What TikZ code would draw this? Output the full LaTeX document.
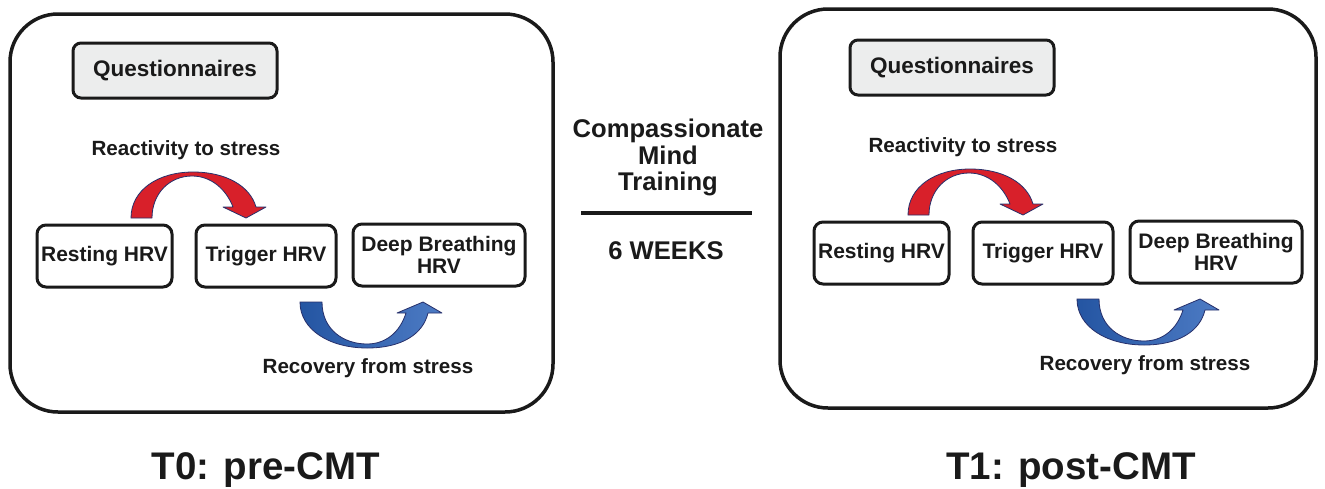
\documentclass[tikz,border=0pt]{standalone}
\usepackage{fontspec}
\setmainfont{Liberation Sans}
\definecolor{ink}{HTML}{1A1A1A}
\definecolor{qfill}{HTML}{ECEDED}
\definecolor{redarrow}{HTML}{D8202A}
\definecolor{navyedge}{HTML}{27306B}
\definecolor{bluedark}{HTML}{2455A2}
\definecolor{bluelight}{HTML}{4D7BC4}
\tikzset{
 bigbox/.style={draw=ink, line width=3.5pt, rounded corners=48pt, inner sep=0pt},
 hrvbox/.style={draw=ink, line width=3pt, rounded corners=9pt, fill=white, inner sep=0pt, text=ink,
   font=\bfseries\fontsize{21}{21.5}\selectfont, align=center},
 qbox/.style={hrvbox, fill=qfill, font=\bfseries\fontsize{22.5}{24}\selectfont, rounded corners=8pt},
 lbl/.style={text=ink, font=\bfseries\fontsize{20.6}{22}\selectfont, inner sep=0pt, anchor=base},
 midlbl/.style={text=ink, font=\bfseries\fontsize{25.6}{26.5}\selectfont, inner sep=0pt, align=center},
 biglbl/.style={text=ink, font=\bfseries\fontsize{38.5}{40}\selectfont, inner sep=0pt, anchor=base},
 redarr/.style={fill=redarrow, draw=navyedge, line width=0.8pt, line join=round},
 bluearr/.style={left color=bluedark, right color=bluelight, draw=navyedge, line width=0.8pt, line join=round},
}
\newcommand\drawpanel[1]{%
  \node[qbox, minimum width=204pt, minimum height=55pt] (#1q) at (175,70.5) {Questionnaires};
  \node[hrvbox, minimum width=135pt, minimum height=62pt] (#1rest) at (104.5,256) {Resting HRV};
  \node[hrvbox, minimum width=140pt, minimum height=62pt] (#1trig) at (266,256) {Trigger HRV};
  \node[hrvbox, minimum width=172pt, minimum height=62pt] (#1deep) at (439,255) {Deep Breathing\\HRV};
  \node[lbl] (#1react) at (186,155) {Reactivity to stress};
  \node[lbl] (#1recov) at (368,373) {Recovery from stress};
  \filldraw[redarr] (131,218) .. controls (131,190) and (158,172) .. (193,172)
     .. controls (226,172) and (250,186) .. (256,207) -- (266,207) -- (246,218) -- (223,207) -- (233,207)
     .. controls (226,189) and (211,176) .. (192,176)
     .. controls (170,176) and (152,193) .. (152,218) -- cycle;
  \shadedraw[bluearr] (300,302) .. controls (300,330) and (330,348) .. (367,348)
     .. controls (402,348) and (423,334) .. (428,313) -- (442,313) -- (423,302) -- (397,313) -- (406,313)
     .. controls (400,332) and (386,344) .. (367,344)
     .. controls (344,344) and (322,330) .. (322,302) -- cycle;
}
\begin{document}
\begin{tikzpicture}[x=1pt,y=-1pt]
\useasboundingbox (0,0) rectangle (1325,488);
\fill[white] (0,0) rectangle (1325,488);
\node[bigbox, minimum width=543pt, minimum height=398pt] (Lbox) at (281.5,213) {};
\node[bigbox, minimum width=536pt, minimum height=399pt] (Rbox) at (1048,208.5) {};
\drawpanel{L}
\begin{scope}[shift={(777,-3)}]
\drawpanel{R}
\end{scope}
\node[midlbl, anchor=north] (cmt) at (668,119) {Compassionate\\Mind\\Training};
\coordinate (lineL) at (581,213);
\coordinate (lineR) at (752,213);
\draw[ink, line width=3.5pt] (lineL) -- (lineR);
\node[midlbl, anchor=base] (weeks) at (666,259) {6 WEEKS};
\node[biglbl] (t0) at (266,479) {T0: pre-CMT};
\node[biglbl] (t1) at (1071,479) {T1: post-CMT};
\end{tikzpicture}
\end{document}
